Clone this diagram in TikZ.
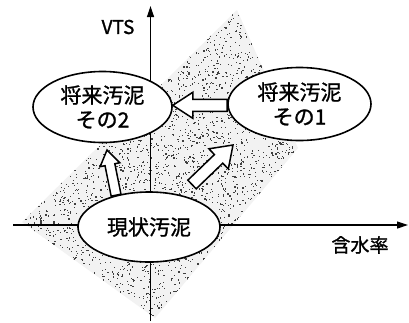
\documentclass[tikz,border=0pt]{standalone}
\usepackage{fontspec}
\setmainfont{Noto Sans CJK JP}[FakeBold=1.2]
\usetikzlibrary{shapes.geometric,arrows.meta,calc}
\pgfdeclarelayer{band}
\pgfdeclarelayer{mid}
\pgfsetlayers{band,mid,main}
\tikzset{
  blob/.style={ellipse, draw, line width=1.6pt, fill=white, inner sep=0pt, align=center,
               font=\fontsize{21}{24.5}\selectfont},
  axisline/.style={line width=1.2pt, -{Triangle[length=11pt,width=7pt]}},
  blockarrow/.style={draw, line width=1.5pt, fill=white, line join=miter},
  lbl/.style={inner sep=0pt, font=\fontsize{19}{19}\selectfont},
}
\newcommand\barrow[5]{%
  \coordinate (bh) at ($(#2)!#5!(#1)$);
  \path[blockarrow] ($(#1)!#3!90:(#2)$) -- ($(bh)!#3!90:(#2)$) -- ($(bh)!#4!90:(#2)$)
    -- (#2) -- ($(bh)!#4!-90:(#2)$) -- ($(bh)!#3!-90:(#2)$) -- ($(#1)!#3!-90:(#2)$) -- cycle;
}
\begin{document}
\begin{tikzpicture}[x=1pt,y=-1pt]
\useasboundingbox (0,0) rectangle (409,322);
% nodes
\node[blob, minimum width=139pt, minimum height=71pt] (f2) at (102.5,107) {将来汚泥\\その2};
\node[blob, minimum width=143pt, minimum height=73pt] (f1) at (299.5,104) {将来汚泥\\その1};
\node[blob, minimum width=142pt, minimum height=70pt] (cur) at (149,227) {現状汚泥};
\node[lbl] (vts) at (118,27) {VTS};
\node[lbl] (gan) at (360,245) {含水率};
% stippled band
\begin{pgfonlayer}{band}
  \fill[white] (0,0) rectangle (409,322);
  \begin{scope}
    \clip (22,222) -- (237,10) -- (298,148) -- (155,318) -- cycle;
    \fill[black!5] (0,0) rectangle (409,322);
    \pgfmathsetseed{7}
    \foreach \i in {1,...,4500}{\fill[black!75] ({22+276*rnd},{10+308*rnd}) rectangle ++({0.8+0.8*rnd},{0.8+0.8*rnd});}
  \end{scope}
\end{pgfonlayer}
% axes and arrows
\begin{pgfonlayer}{mid}
  \coordinate (yb) at (150.5,321);
  \coordinate (yt) at (150.5,6);
  \coordinate (xl) at (13,225);
  \coordinate (xr) at (408,225);
  \draw[axisline] (yb) -- (yt);
  \draw[axisline] (xl) -- (xr);
  \coordinate (a1t) at (f1.west |- 0,105.3);
  \coordinate (a1h) at (f2.east |- 0,105.3);
  \barrow{a1t}{a1h}{6pt}{13pt}{20pt}
  \coordinate (a2t) at (cur.136);
  \coordinate (a2h) at (107,150);
  \barrow{a2t}{a2h}{5pt}{10pt}{15pt}
  \coordinate (a3t) at (192,184.5);
  \coordinate (a3h) at (233,145);
  \barrow{a3t}{a3h}{6pt}{14pt}{20pt}
\end{pgfonlayer}
\end{tikzpicture}
\end{document}
